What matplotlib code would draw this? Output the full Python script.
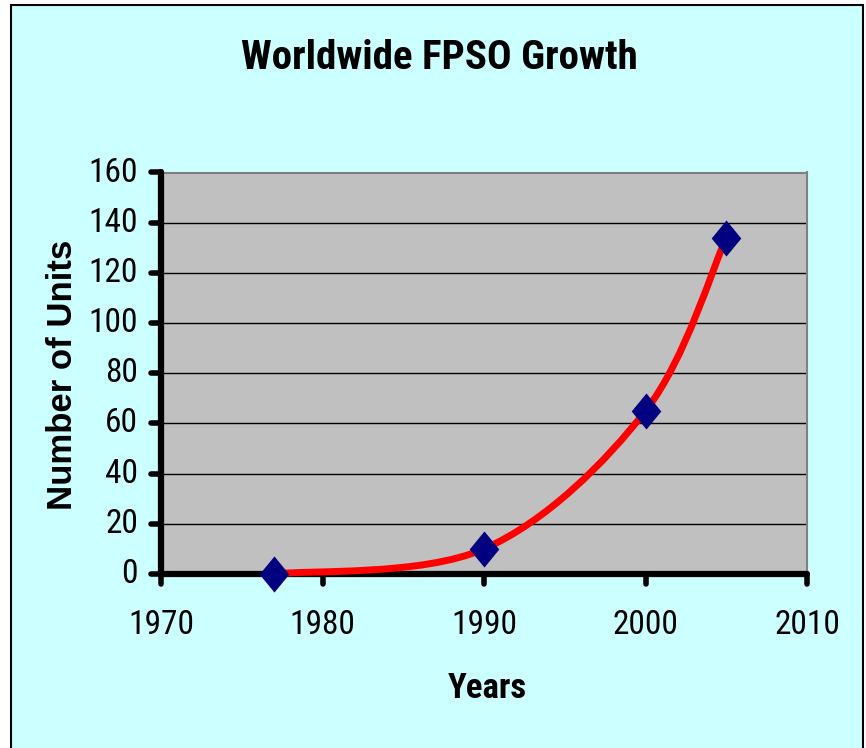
import matplotlib
matplotlib.use("Agg")
import matplotlib.pyplot as plt
from matplotlib.path import Path
from matplotlib.patches import PathPatch, Rectangle
from matplotlib import font_manager
import numpy as np

# ---------------------------------------------------------------------------
# data
# ---------------------------------------------------------------------------
years = [1977, 1990, 2000, 2005]
units = [0, 10, 65, 134]

xticks = [1970, 1980, 1990, 2000, 2010]
yticks = [0, 20, 40, 60, 80, 100, 120, 140, 160]

title = "Worldwide FPSO Growth"
xlabel = "Years"
ylabel = "Number of Units"

# ---------------------------------------------------------------------------
# fonts: a narrow Arial-like face with a real bold weight
# ---------------------------------------------------------------------------
faces = font_manager.fontManager.ttflist
def has_bold(name):
    return any(f.name == name and f.weight == 700 for f in faces)

narrow = next((n for n in ("Liberation Sans Narrow", "Roboto Condensed",
                           "PT Sans Narrow") if has_bold(n)), "Liberation Sans")
wide = "Liberation Sans"

W, H = 866, 748
fig = plt.figure(figsize=(W / 100, H / 100), dpi=100)
fig.patch.set_facecolor("white")

# chart area background with frame
fig.patches.append(Rectangle((11 / W, -0.05), (863 - 11) / W, 1.05 - 5.5 / H,
                             transform=fig.transFigure, facecolor="#CCFFFF",
                             edgecolor="black", linewidth=1.5, zorder=-10))

ax = fig.add_axes([161 / W, (H - 574) / H, 646 / W, (574 - 172.5) / H])
ax.set_facecolor("#C0C0C0")
ax.set_xlim(1970, 2010)
ax.set_ylim(0, 160)

for s in ("top", "right"):
    ax.spines[s].set_color("#808080")
    ax.spines[s].set_linewidth(1.5)
for s in ("left", "bottom"):
    ax.spines[s].set_color("black")
    ax.spines[s].set_linewidth(4.5)
    ax.spines[s].set_capstyle("round")
    ax.spines[s].set_zorder(5)

# gridlines
for y in yticks[1:-1]:
    ax.axhline(y, color="black", linewidth=1.0, zorder=1)

# ticks drawn as short rounded strokes
ax.set_xticks(xticks)
ax.set_yticks(yticks)
ax.tick_params(length=0, pad=0)
ax.set_xticklabels([])
ax.set_yticklabels([])

ytr = ax.get_yaxis_transform()
xtr = ax.get_xaxis_transform()
tick_len_x = 10 / 646
tick_len_y = 10 / 401.5
for y in yticks:
    ax.plot([-tick_len_x, 0], [y, y], transform=ytr, color="black", lw=4,
            solid_capstyle="round", clip_on=False, zorder=6)
    ax.text(-23 / 646, y, str(y), transform=ytr, ha="right", va="center",
            fontsize=24, family=narrow)
for x in xticks:
    ax.plot([x, x], [-tick_len_y, 0], transform=xtr, color="black", lw=4,
            solid_capstyle="round", clip_on=False, zorder=6)
    ax.text(x, -35 / 401.5, str(x), transform=xtr, ha="center", va="top",
            fontsize=24, family=narrow)

# smoothed line through the points (cubic Bezier segments)
pts = np.column_stack([years, units]).astype(float)
ext = np.vstack([pts[0], pts, pts[-1]])
verts = [tuple(pts[0])]
codes = [Path.MOVETO]
for i in range(len(pts) - 1):
    p0, p1, p2, p3 = ext[i], ext[i + 1], ext[i + 2], ext[i + 3]
    c1 = p1 + (p2 - p0) / 6
    c2 = p2 - (p3 - p1) / 6
    verts += [tuple(c1), tuple(c2), tuple(p2)]
    codes += [Path.CURVE4] * 3
ax.add_patch(PathPatch(Path(verts, codes), facecolor="none", edgecolor="#FF0000",
                       linewidth=5, zorder=7, clip_on=False, capstyle="round"))

diamond = [(0, 1), (0.82, 0), (0, -1), (-0.82, 0), (0, 1)]
ax.plot(years, units, linestyle="none", marker=diamond, markersize=26,
        color="#000080", markeredgewidth=0, zorder=8, clip_on=False)

fig.text(439 / W, 1 - 58 / H, title, ha="center", va="center",
         fontsize=29.5, fontweight="bold", family=narrow)
fig.text(487 / W, 1 - 688 / H, xlabel, ha="center", va="center",
         fontsize=25, fontweight="bold", family=narrow)
fig.text(62 / W, 1 - 375 / H, ylabel, ha="center", va="center", rotation=90,
         fontsize=25, fontweight="bold", family=wide)

fig.savefig("out.png", dpi=100)
